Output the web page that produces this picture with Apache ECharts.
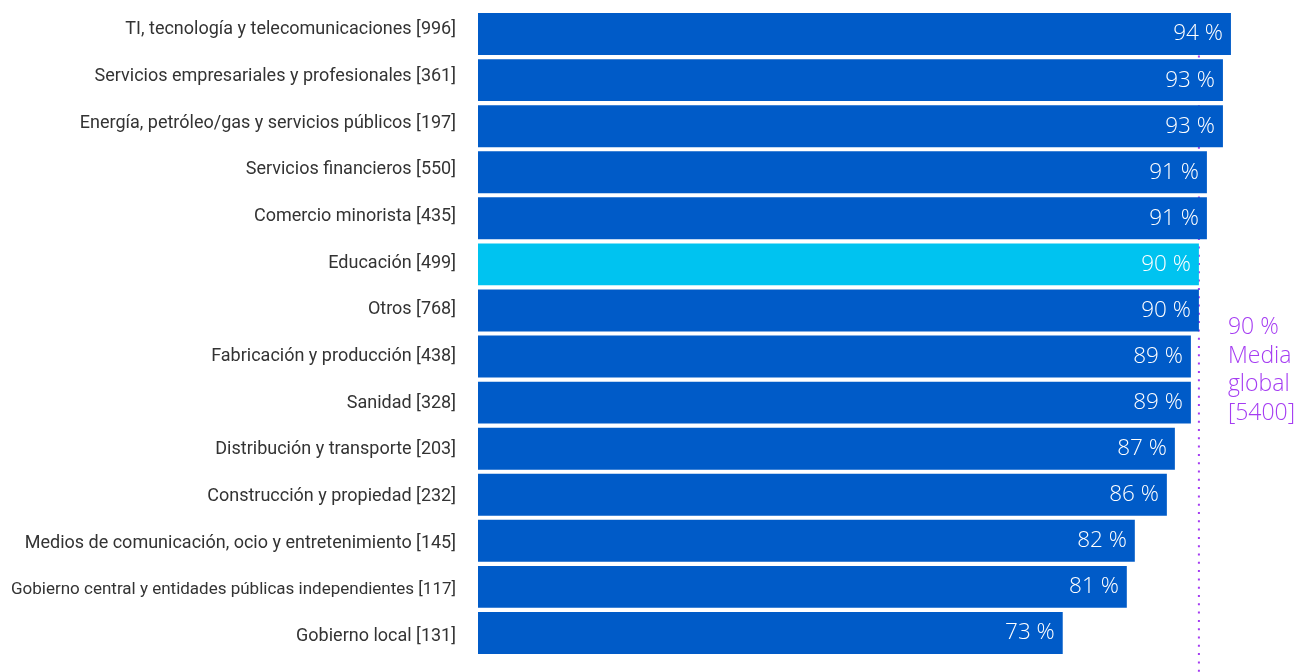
<!DOCTYPE html>
<html>
<head>
<meta charset="utf-8">
<script src="https://cdn.jsdelivr.net/npm/echarts@6/dist/echarts.min.js"></script>
<style>
  html, body { margin: 0; padding: 0; background: #ffffff; }
  #chart { width: 1301px; height: 672px; }
</style>
</head>
<body>
<div id="chart"></div>
<script>
// Sector labels with respondent counts
const categories = [
  'TI, tecnología y telecomunicaciones [996]',
  'Servicios empresariales y profesionales [361]',
  'Energía, petróleo/gas y servicios públicos [197]',
  'Servicios financieros [550]',
  'Comercio minorista [435]',
  'Educación [499]',
  'Otros [768]',
  'Fabricación y producción [438]',
  'Sanidad [328]',
  'Distribución y transporte [203]',
  'Construcción y propiedad [232]',
  'Medios de comunicación, ocio y entretenimiento [145]',
  'Gobierno central y entidades públicas independientes [117]',
  'Gobierno local [131]'
];
const values = [94, 93, 93, 91, 91, 90, 90, 89, 89, 87, 86, 82, 81, 73];
const highlighted = 'Educación [499]';
const globalAverage = 90;
const globalAverageLines = ['90 %', 'Media', 'global', '[5400]'];

const BLUE = '#005bc8';
const CYAN = '#00c3f0';
const PURPLE = '#a53cf2';
const LABEL_FONT = 'Roboto, "Noto Sans", sans-serif';
const VALUE_FONT = '"Open Sans", Roboto, sans-serif';

const chart = echarts.init(document.getElementById('chart'), null, { renderer: 'canvas' });

chart.setOption({
  animation: false,
  grid: [
    // bars
    { left: 478, right: 22, top: 11, bottom: 16, containLabel: false, outerBoundsMode: 'none' },
    // sector names column, spaced a touch wider than the bars
    { left: 478, right: 22, top: 6.5, bottom: 12, containLabel: false, outerBoundsMode: 'none' }
  ],
  xAxis: [
    { gridIndex: 0, type: 'value', min: 0, max: 100, show: false },
    { gridIndex: 1, type: 'value', min: 0, max: 100, show: false }
  ],
  yAxis: [
    {
      gridIndex: 0,
      type: 'category',
      data: categories,
      inverse: true,
      axisLine: { show: false },
      axisTick: { show: false },
      axisLabel: { show: false }
    },
    {
      gridIndex: 1,
      type: 'category',
      data: categories,
      inverse: true,
      axisLine: { show: false },
      axisTick: { show: false },
      axisLabel: {
        margin: 22,
        fontSize: 18,
        color: '#333333',
        fontFamily: LABEL_FONT,
        hideOverlap: false,
        // the longest name is set slightly tighter so it stays on the page
        formatter: v => v.length > 55 ? '{tight|' + v + '}' : v,
        rich: {
          tight: { fontSize: 17, color: '#333333', fontFamily: LABEL_FONT }
        }
      }
    }
  ],
  series: [{
    type: 'bar',
    xAxisIndex: 0,
    yAxisIndex: 0,
    z: 2,
    barCategoryGap: '9%',
    data: values.map((v, i) => ({
      value: v,
      itemStyle: { color: categories[i] === highlighted ? CYAN : BLUE }
    })),
    label: {
      show: true,
      position: 'insideRight',
      distance: 8,
      formatter: p => p.value + ' %',
      color: '#ffffff',
      fontSize: 22.5,
      fontWeight: 300,
      fontFamily: VALUE_FONT
    }
  }]
});

// Global average reference line and its note, placed through the value axis
function drawAverage() {
  const x = chart.convertToPixel({ xAxisIndex: 0 }, globalAverage);
  chart.setOption({
    graphic: [
      {
        type: 'line', z: 0,
        shape: { x1: x, y1: 14, x2: x, y2: 672 },
        style: { stroke: PURPLE, lineWidth: 2, lineDash: [2, 6.3] }
      },
      {
        type: 'text', z: 5,
        x: x + 29, y: 313,
        style: {
          text: globalAverageLines.join('\n'),
          fill: PURPLE,
          fontSize: 23,
          fontWeight: 300,
          fontFamily: VALUE_FONT,
          lineHeight: 28.7,
          align: 'left',
          verticalAlign: 'top'
        }
      }
    ]
  });
}
drawAverage();
</script>
</body>
</html>
